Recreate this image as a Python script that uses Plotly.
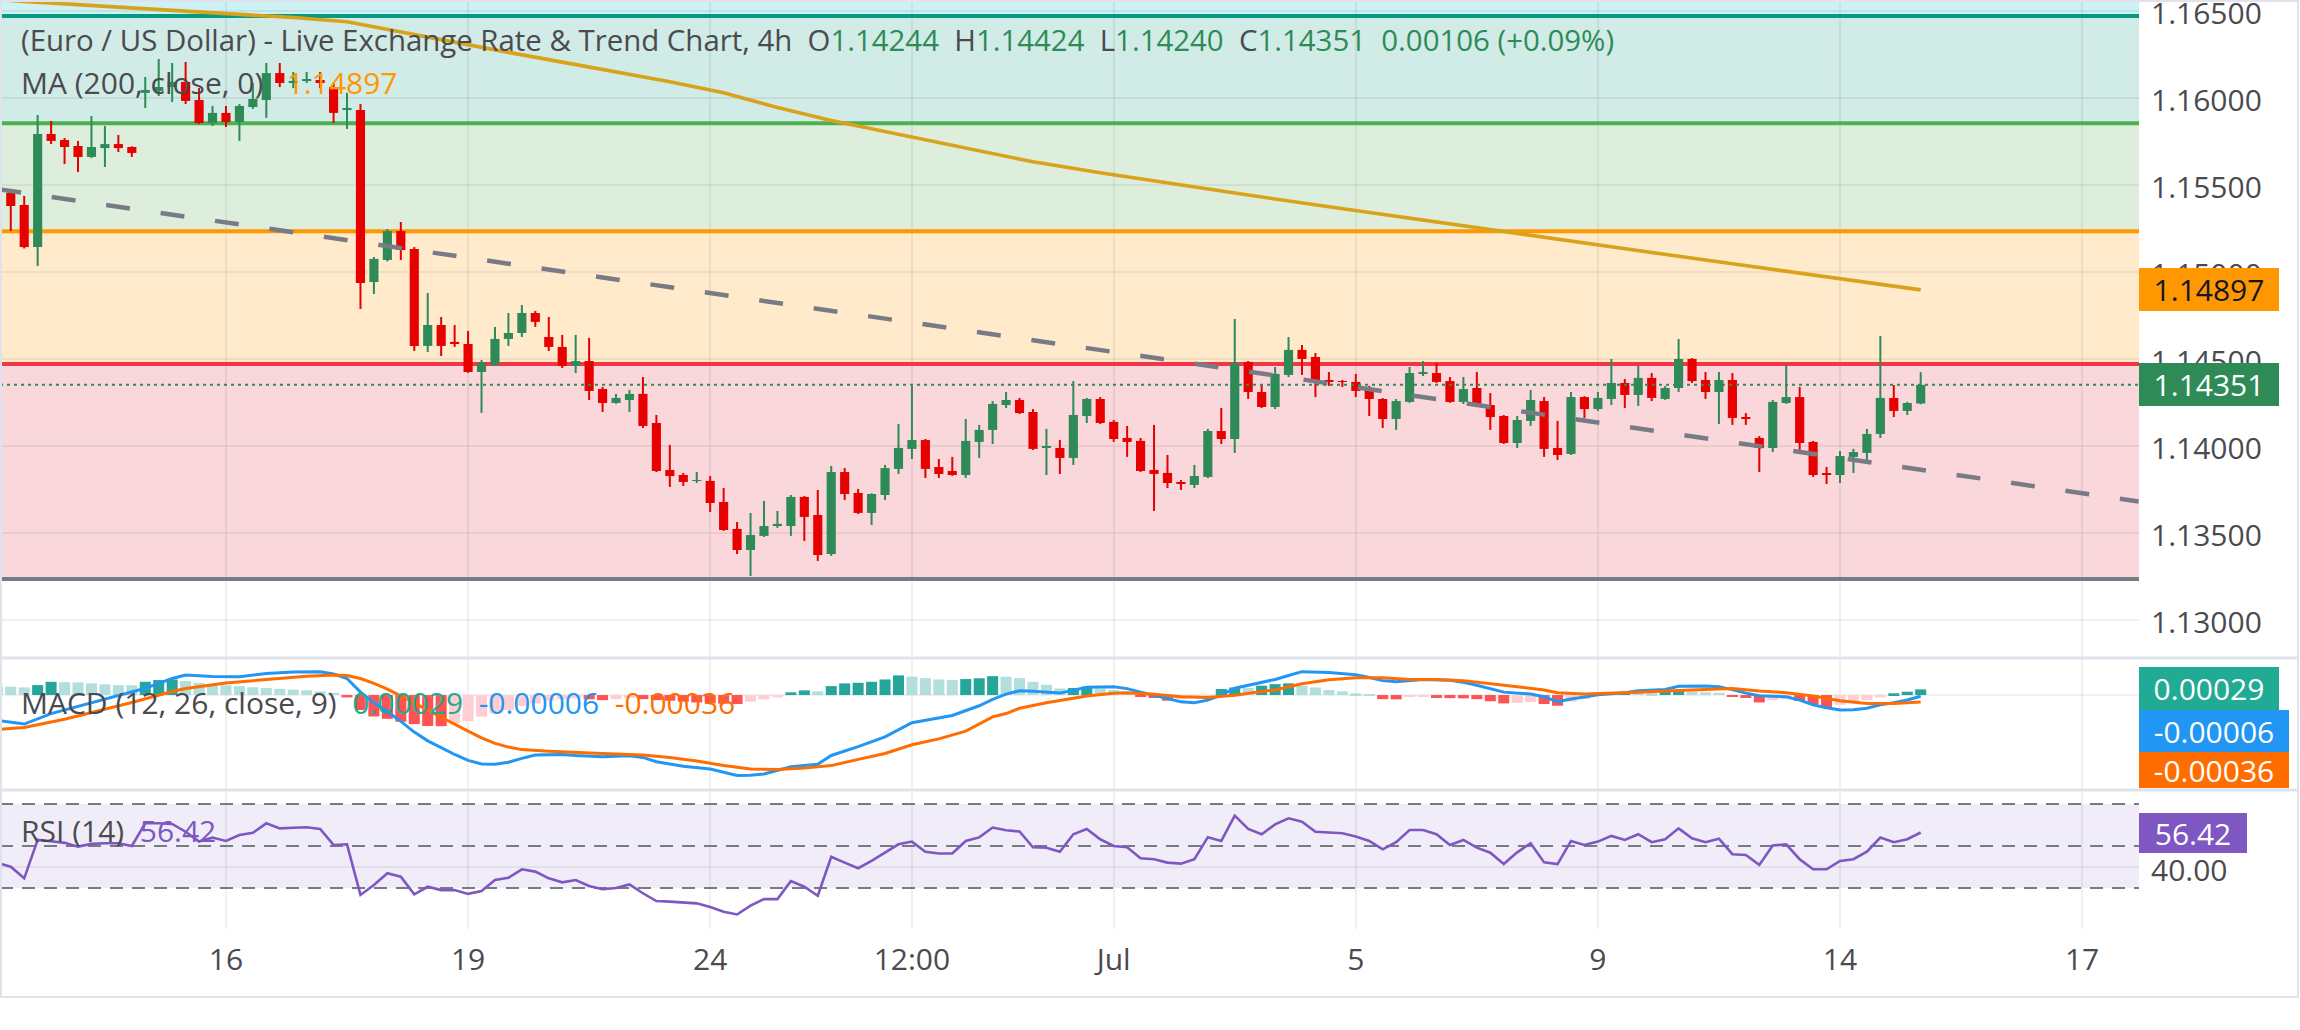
import plotly.graph_objects as go

# ---------------- data ----------------
candle_idx = list(range(-17, 127))   # 4h candle slots, 0 = Jun 16 00:00

opens = [
    1.15460, 1.15454, 1.15385, 1.15143, 1.15793, 1.15758, 1.15724, 1.15661, 1.15712, 1.15735,
    1.15718, 1.16029, 1.16040, 1.16063, 1.16092, 1.15988, 1.15856, 1.15914, 1.15862, 1.15948,
    1.15988, 1.16143, 1.16086, 1.16103, 1.16103, 1.16063, 1.15931, 1.15931, 1.14942, 1.15069,
    1.15235, 1.15132, 1.14575, 1.14695, 1.14598, 1.14586, 1.14425, 1.14465, 1.14615, 1.14649,
    1.14764, 1.14626, 1.14569, 1.14460, 1.14488, 1.14327, 1.14247, 1.14264, 1.14299, 1.14132,
    1.13862, 1.13833, 1.13799, 1.13799, 1.13678, 1.13523, 1.13402, 1.13483, 1.13540, 1.13540,
    1.13707, 1.13603, 1.13379, 1.13850, 1.13730, 1.13615, 1.13718, 1.13868, 1.13983, 1.14034,
    1.13879, 1.13856, 1.13833, 1.14023, 1.14092, 1.14235, 1.14264, 1.14195, 1.13988, 1.13988,
    1.13931, 1.14172, 1.14270, 1.14138, 1.14046, 1.14029, 1.13862, 1.13845, 1.13793, 1.13776,
    1.13822, 1.14086, 1.14040, 1.14483, 1.14310, 1.14224, 1.14408, 1.14552, 1.14511, 1.14379,
    1.14373, 1.14368, 1.14322, 1.14270, 1.14155, 1.14253, 1.14419, 1.14419, 1.14373, 1.14253,
    1.14333, 1.14235, 1.14172, 1.14017, 1.14144, 1.14258, 1.13988, 1.13954, 1.14281, 1.14212,
    1.14270, 1.14362, 1.14293, 1.14391, 1.14270, 1.14333, 1.14500, 1.14379, 1.14310, 1.14379,
    1.14161, 1.14046, 1.13988, 1.14247, 1.14281, 1.14023, 1.13839, 1.13833, 1.13937, 1.13960,
    1.14069, 1.14276, 1.14201, 1.14244]
highs = [
    1.15475, 1.15460, 1.15437, 1.15902, 1.15868, 1.15770, 1.15753, 1.15896, 1.15839, 1.15787,
    1.15722, 1.16121, 1.16224, 1.16201, 1.16207, 1.16057, 1.15954, 1.15954, 1.15965, 1.16086,
    1.16201, 1.16201, 1.16149, 1.16149, 1.16149, 1.16086, 1.16029, 1.15965, 1.15086, 1.15247,
    1.15287, 1.15143, 1.14879, 1.14741, 1.14695, 1.14661, 1.14494, 1.14684, 1.14764, 1.14810,
    1.14776, 1.14741, 1.14638, 1.14638, 1.14621, 1.14339, 1.14299, 1.14322, 1.14396, 1.14178,
    1.14006, 1.13845, 1.13850, 1.13827, 1.13758, 1.13563, 1.13615, 1.13684, 1.13626, 1.13718,
    1.13712, 1.13747, 1.13885, 1.13873, 1.13753, 1.13728, 1.13891, 1.14126, 1.14345, 1.14040,
    1.13925, 1.13937, 1.14155, 1.14121, 1.14258, 1.14310, 1.14276, 1.14212, 1.14098, 1.14034,
    1.14373, 1.14276, 1.14281, 1.14149, 1.14115, 1.14046, 1.14121, 1.13948, 1.13804, 1.13891,
    1.14098, 1.14218, 1.14730, 1.14488, 1.14350, 1.14454, 1.14626, 1.14580, 1.14534, 1.14425,
    1.14379, 1.14414, 1.14345, 1.14275, 1.14270, 1.14454, 1.14488, 1.14477, 1.14396, 1.14396,
    1.14425, 1.14304, 1.14178, 1.14172, 1.14322, 1.14281, 1.14144, 1.14310, 1.14286, 1.14310,
    1.14500, 1.14385, 1.14460, 1.14419, 1.14345, 1.14615, 1.14505, 1.14425, 1.14425, 1.14419,
    1.14189, 1.14057, 1.14264, 1.14465, 1.14339, 1.14029, 1.13879, 1.13971, 1.13983, 1.14098,
    1.14632, 1.14350, 1.14253, 1.14424]
lows = [
    1.15430, 1.15235, 1.15135, 1.15034, 1.15735, 1.15620, 1.15574, 1.15655, 1.15603, 1.15689,
    1.15661, 1.15942, 1.16011, 1.15977, 1.15965, 1.15850, 1.15839, 1.15833, 1.15753, 1.15937,
    1.15885, 1.16063, 1.16057, 1.16086, 1.16057, 1.15856, 1.15822, 1.14787, 1.14873, 1.15060,
    1.15069, 1.14546, 1.14540, 1.14517, 1.14569, 1.14420, 1.14190, 1.14460, 1.14575, 1.14626,
    1.14684, 1.14546, 1.14448, 1.14419, 1.14264, 1.14195, 1.14242, 1.14195, 1.14103, 1.13850,
    1.13764, 1.13770, 1.13787, 1.13621, 1.13512, 1.13379, 1.13253, 1.13477, 1.13529, 1.13483,
    1.13454, 1.13339, 1.13368, 1.13689, 1.13609, 1.13546, 1.13689, 1.13839, 1.13925, 1.13816,
    1.13816, 1.13828, 1.13816, 1.13931, 1.14011, 1.14218, 1.14184, 1.13977, 1.13833, 1.13839,
    1.13891, 1.14132, 1.14126, 1.14023, 1.13937, 1.13850, 1.13626, 1.13758, 1.13747, 1.13758,
    1.13815, 1.14011, 1.13960, 1.14270, 1.14218, 1.14212, 1.14396, 1.14408, 1.14281, 1.14345,
    1.14339, 1.14281, 1.14172, 1.14103, 1.14092, 1.14248, 1.14402, 1.14362, 1.14248, 1.14241,
    1.14224, 1.14092, 1.14011, 1.13988, 1.14115, 1.13937, 1.13919, 1.13948, 1.14161, 1.14201,
    1.14235, 1.14218, 1.14230, 1.14258, 1.14265, 1.14310, 1.14362, 1.14270, 1.14126, 1.14121,
    1.14121, 1.13850, 1.13965, 1.14242, 1.13971, 1.13822, 1.13781, 1.13787, 1.13845, 1.13902,
    1.14046, 1.14166, 1.14178, 1.14240]
closes = [
    1.15445, 1.15379, 1.15143, 1.15793, 1.15753, 1.15718, 1.15661, 1.15718, 1.15735, 1.15712,
    1.15684, 1.16046, 1.16063, 1.16092, 1.15983, 1.15856, 1.15914, 1.15862, 1.15954, 1.15994,
    1.16143, 1.16086, 1.16098, 1.16109, 1.16086, 1.15914, 1.15942, 1.14937, 1.15075, 1.15235,
    1.15126, 1.14575, 1.14695, 1.14575, 1.14586, 1.14425, 1.14477, 1.14615, 1.14649, 1.14764,
    1.14713, 1.14569, 1.14460, 1.14488, 1.14316, 1.14247, 1.14276, 1.14299, 1.14115, 1.13856,
    1.13827, 1.13793, 1.13804, 1.13672, 1.13517, 1.13402, 1.13488, 1.13540, 1.13552, 1.13707,
    1.13592, 1.13373, 1.13850, 1.13724, 1.13615, 1.13724, 1.13873, 1.13988, 1.14034, 1.13868,
    1.13839, 1.13833, 1.14029, 1.14092, 1.14241, 1.14264, 1.14189, 1.13983, 1.14000, 1.13931,
    1.14178, 1.14270, 1.14132, 1.14040, 1.14023, 1.13856, 1.13839, 1.13787, 1.13787, 1.13827,
    1.14086, 1.14040, 1.14477, 1.14310, 1.14224, 1.14414, 1.14552, 1.14500, 1.14368, 1.14373,
    1.14368, 1.14316, 1.14270, 1.14155, 1.14258, 1.14419, 1.14425, 1.14368, 1.14253, 1.14327,
    1.14230, 1.14166, 1.14017, 1.14149, 1.14264, 1.13983, 1.13948, 1.14281, 1.14212, 1.14276,
    1.14362, 1.14293, 1.14391, 1.14276, 1.14333, 1.14500, 1.14373, 1.14310, 1.14379, 1.14161,
    1.14155, 1.13988, 1.14253, 1.14281, 1.14017, 1.13833, 1.13833, 1.13942, 1.13965, 1.14069,
    1.14276, 1.14201, 1.14247, 1.14351]

ma_idx = [-17, -15, -8, 0, 5, 9, 13, 17, 21, 25, 29, 33, 37, 41, 45, 50, 55, 60, 65, 70,
          76, 82, 88, 94, 100, 106, 112, 118, 122, 126]
ma_vals = [1.16566, 1.16555, 1.16522, 1.16487, 1.16462, 1.16438, 1.16378, 1.16318, 1.16262,
           1.16206, 1.16150, 1.16093, 1.16030, 1.15945, 1.15870, 1.15790, 1.15712, 1.15633,
           1.15570, 1.15510, 1.15442, 1.15375, 1.15308, 1.15241, 1.15176, 1.15112, 1.15047,
           1.14983, 1.14940, 1.14897]

trend_idx = [-17, 142.2]
trend_vals = [1.15476, 1.13681]

fib_levels = [1.16471, 1.15854, 1.15234, 1.14471, 1.13236]
fib_line_colors = ['#089981', '#4caf50', '#ff9800', '#f23645', '#787b86']
fib_fill_colors = ['#cef1f3', '#d1ebe6', '#ddefdc', '#ffeacb', '#f9d7db']

macd_idx = [-17, -15, -13, -11, -9, -7, -6, -5, -4, -3, -1, 1, 3, 5, 7, 8, 9, 10, 11, 12,
            13, 14, 15, 16, 17, 18, 19, 20, 21, 22, 23, 25, 26, 28, 30, 31, 32, 34, 36, 38,
            39, 40, 42, 44, 45, 47, 49, 51, 52, 54, 56, 57, 58, 59, 60, 61, 62, 63, 64, 66,
            67, 68, 69, 70, 71, 72, 73, 74, 75, 76, 77, 78, 79, 80, 82, 84, 85, 86, 87, 88,
            89, 91, 92, 93, 94, 95, 97, 98, 99, 100, 101, 102, 104, 105, 107, 108, 110, 111,
            112, 113, 114, 116, 117, 118, 119, 120, 121, 122, 123, 124, 125, 126]
macd_vals = [-0.00130, -0.00149, -0.00095, -0.00058, -0.00022, 0.00015, 0.00035, 0.00060,
             0.00085, 0.00103, 0.00095, 0.00094, 0.00110, 0.00118, 0.00120, 0.00108, 0.00085,
             0.00015, -0.00040, -0.00085, -0.00135, -0.00190, -0.00235, -0.00270, -0.00305,
             -0.00335, -0.00354, -0.00355, -0.00345, -0.00325, -0.00308, -0.00305, -0.00310,
             -0.00316, -0.00312, -0.00320, -0.00342, -0.00365, -0.00380, -0.00413, -0.00412,
             -0.00405, -0.00368, -0.00355, -0.00310, -0.00265, -0.00215, -0.00142, -0.00130,
             -0.00105, -0.00055, -0.00022, 0.00005, 0.00022, 0.00019, 0.00014, 0.00010, 0.00025,
             0.00040, 0.00043, 0.00033, 0.00015, 0.00000, -0.00018, -0.00035, -0.00040,
             -0.00026, 0.00000, 0.00035, 0.00050, 0.00062, 0.00080, 0.00100, 0.00120, 0.00116,
             0.00104, 0.00090, 0.00074, 0.00068, 0.00075, 0.00080, 0.00076, 0.00066, 0.00050,
             0.00034, 0.00015, 0.00005, -0.00009, -0.00034, -0.00020, -0.00010, 0.00002,
             0.00012, 0.00022, 0.00029, 0.00045, 0.00047, 0.00043, 0.00028, 0.00010, -0.00004,
             -0.00009, -0.00026, -0.00050, -0.00065, -0.00077, -0.00076, -0.00068, -0.00050,
             -0.00040, -0.00025, -0.00006]

signal_idx = [-17, -15, -12, -10, -7, -4, -3, 0, 3, 6, 8, 9, 10, 11, 12, 13, 14, 15, 16, 17,
              18, 19, 20, 21, 22, 24, 26, 28, 31, 33, 35, 37, 39, 41, 43, 45, 47, 49, 51, 53,
              55, 57, 58, 59, 61, 63, 64, 66, 67, 69, 71, 73, 75, 77, 78, 80, 82, 84, 86, 88,
              90, 92, 94, 96, 98, 99, 101, 103, 105, 107, 110, 112, 114, 116, 118, 120, 122,
              124, 126]
signal_vals = [-0.00177, -0.00166, -0.00124, -0.00090, -0.00038, 0.00018, 0.00034, 0.00062,
               0.00080, 0.00097, 0.00103, 0.00100, 0.00085, 0.00060, 0.00030, -0.00003,
               -0.00040, -0.00078, -0.00115, -0.00150, -0.00185, -0.00220, -0.00248, -0.00267,
               -0.00280, -0.00288, -0.00295, -0.00300, -0.00308, -0.00320, -0.00338, -0.00362,
               -0.00379, -0.00382, -0.00375, -0.00362, -0.00330, -0.00300, -0.00255, -0.00225,
               -0.00185, -0.00112, -0.00095, -0.00068, -0.00040, -0.00018, -0.00005, 0.00009,
               0.00012, 0.00004, -0.00009, -0.00012, -0.00001, 0.00018, 0.00026, 0.00058,
               0.00078, 0.00089, 0.00089, 0.00080, 0.00080, 0.00074, 0.00060, 0.00043, 0.00026,
               0.00012, 0.00005, 0.00009, 0.00014, 0.00021, 0.00031, 0.00034, 0.00021, 0.00012,
               -0.00005, -0.00029, -0.00043, -0.00043, -0.00036]

hist_vals = [
    0.00043, 0.00043, 0.00039, 0.00051, 0.00068, 0.00066, 0.00065, 0.00060, 0.00055, 0.00051,
    0.00050, 0.00068, 0.00077, 0.00080, 0.00072, 0.00063, 0.00056, 0.00050, 0.00046, 0.00040,
    0.00036, 0.00032, 0.00028, 0.00024, 0.00019, 0.00012, -0.00012, -0.00077, -0.00110, -0.00122,
    -0.00137, -0.00149, -0.00159, -0.00160, -0.00145, -0.00133, -0.00111, -0.00094, -0.00077, -0.00056,
    -0.00043, -0.00029, -0.00022, -0.00017, -0.00022, -0.00026, -0.00021, -0.00014, -0.00021, -0.00026,
    -0.00029, -0.00034, -0.00038, -0.00043, -0.00044, -0.00046, -0.00034, -0.00022, -0.00012, 0.00014,
    0.00024, 0.00019, 0.00046, 0.00060, 0.00063, 0.00068, 0.00080, 0.00101, 0.00094, 0.00087,
    0.00080, 0.00077, 0.00082, 0.00086, 0.00097, 0.00094, 0.00087, 0.00068, 0.00053, 0.00034,
    0.00036, 0.00043, 0.00034, 0.00026, 0.00014, -0.00009, -0.00015, -0.00029, -0.00021, -0.00015,
    -0.00009, 0.00031, 0.00039, 0.00037, 0.00048, 0.00056, 0.00060, 0.00048, 0.00039, 0.00026,
    0.00019, 0.00009, 0.00002, -0.00021, -0.00022, -0.00009, -0.00007, -0.00015, -0.00016, -0.00017,
    -0.00021, -0.00032, -0.00043, -0.00040, -0.00036, -0.00046, -0.00055, -0.00034, -0.00020, 0.00005,
    0.00012, 0.00016, 0.00013, 0.00010, 0.00017, 0.00021, 0.00016, 0.00014, 0.00012, -0.00010,
    -0.00015, -0.00038, -0.00026, -0.00021, -0.00030, -0.00046, -0.00063, -0.00050, -0.00038, -0.00026,
    -0.00012, 0.00009, 0.00017, 0.00029]

rsi_vals = [
    42.0, 40.1, 34.6, 52.9, 52.3, 51.5, 49.7, 51.0, 51.3, 51.3,
    50.0, 60.8, 60.8, 60.5, 56.8, 52.1, 54.0, 52.4, 55.2, 56.3,
    60.8, 58.4, 58.7, 58.9, 58.1, 50.5, 50.8, 26.7, 31.4, 37.0,
    35.4, 27.0, 30.6, 29.0, 29.0, 27.2, 28.6, 33.8, 34.9, 38.9,
    37.8, 34.6, 32.7, 33.8, 31.0, 29.4, 30.0, 31.7, 27.5, 23.8,
    23.5, 23.0, 22.7, 21.0, 18.7, 17.4, 21.6, 24.7, 24.7, 33.3,
    30.6, 26.3, 44.9, 42.1, 39.4, 42.9, 46.8, 50.8, 52.1, 47.3,
    46.4, 46.4, 52.4, 54.1, 58.8, 57.5, 56.9, 49.4, 49.2, 47.3,
    55.6, 58.1, 53.2, 50.0, 49.4, 44.2, 43.7, 42.1, 41.6, 43.7,
    54.2, 52.4, 64.5, 58.1, 55.6, 60.3, 63.2, 61.6, 56.8, 56.5,
    56.1, 54.5, 52.4, 48.4, 51.8, 57.6, 57.6, 55.6, 50.5, 52.9,
    49.2, 46.8, 41.4, 47.0, 51.3, 42.2, 41.4, 52.4, 50.5, 52.1,
    54.8, 52.9, 55.6, 51.8, 53.2, 58.4, 53.7, 51.8, 53.5, 46.1,
    45.7, 41.0, 50.2, 50.8, 43.7, 38.9, 38.9, 42.9, 43.7, 47.3,
    54.0, 51.8, 53.2, 56.42]

x_tick_idx = [0, 18, 36, 51, 66, 84, 102, 120, 138]
x_tick_text = ['16', '19', '24', '12:00', 'Jul', '5', '9', '14', '17']
price_ticks = [1.130, 1.135, 1.140, 1.145, 1.150, 1.155, 1.160, 1.165]

last_close = 1.14351
last_ma = 1.14897
macd_last = ['0.00029', '-0.00006', '-0.00036']
rsi_last = 56.42

# ---------------- styling ----------------
FONT = 'Open Sans'
FS = 30
TXT = '#4a4a4f'
UP, DOWN = '#2e8b57', '#e60000'
GRID = 'rgba(42,46,57,0.07)'
SEP = '#e0e3eb'

W, H = 2300, 1030
PR, PB = 2139, 929          # plot area right / bottom (px)
XR = [-16.80, 142.23]


def py(px):                 # pixel row -> paper y
    return (PB - px) / PB


def pxx(px):                # pixel col -> paper x
    return px / PR


fig = go.Figure()

# candles: wicks + bodies
wick_base = lows
wick_len = [h - l for h, l in zip(highs, lows)]
colors = [UP if c >= o else DOWN for o, c in zip(opens, closes)]
MINB = 0.000035
body_base, body_len = [], []
for o, c in zip(opens, closes):
    lo, hi = min(o, c), max(o, c)
    if hi - lo < MINB:
        mid = (hi + lo) / 2
        lo, hi = mid - MINB / 2, mid + MINB / 2
    body_base.append(lo)
    body_len.append(hi - lo)

fig.add_trace(go.Bar(x=candle_idx, y=wick_len, base=wick_base, width=0.15,
                     marker=dict(color=colors, line=dict(width=0)), xaxis='x', yaxis='y'))
fig.add_trace(go.Bar(x=candle_idx, y=body_len, base=body_base, width=0.68,
                     marker=dict(color=colors, line=dict(width=0)), xaxis='x', yaxis='y'))

# MA 200
fig.add_trace(go.Scatter(x=ma_idx, y=ma_vals, mode='lines',
                         line=dict(color='#d9a21b', width=3.6), xaxis='x', yaxis='y'))
# trend line
fig.add_trace(go.Scatter(x=trend_idx, y=trend_vals, mode='lines',
                         line=dict(color='#787b86', width=4.5, dash='24px,31px'),
                         xaxis='x', yaxis='y'))

# MACD
hist_colors = []
prev = None
for h in hist_vals:
    p = h if prev is None else prev
    if h >= 0:
        hist_colors.append('#26a69a' if h > p else '#b2dfdb')
    else:
        hist_colors.append('#ff5252' if h < p else '#ffcdd2')
    prev = h
fig.add_trace(go.Bar(x=candle_idx, y=hist_vals, width=0.82,
                     marker=dict(color=hist_colors, line=dict(width=0)), xaxis='x', yaxis='y2'))
fig.add_trace(go.Scatter(x=macd_idx, y=macd_vals, mode='lines',
                         line=dict(color='#2196f3', width=3), xaxis='x', yaxis='y2'))
fig.add_trace(go.Scatter(x=signal_idx, y=signal_vals, mode='lines',
                         line=dict(color='#ff6d00', width=3), xaxis='x', yaxis='y2'))

# RSI
fig.add_trace(go.Scatter(x=candle_idx, y=rsi_vals, mode='lines',
                         line=dict(color='#7e57c2', width=2.6), xaxis='x', yaxis='y3'))

shapes = []
# fib zones
tops = [1.16563] + fib_levels[:-1]
for i, lvl in enumerate(fib_levels):
    shapes.append(dict(type='rect', xref='x', yref='y', x0=XR[0], x1=XR[1],
                       y0=lvl, y1=tops[i], fillcolor=fib_fill_colors[i],
                       line=dict(width=0), layer='below'))
for lvl, col in zip(fib_levels, fib_line_colors):
    shapes.append(dict(type='line', xref='x', yref='y', x0=XR[0], x1=XR[1],
                       y0=lvl, y1=lvl, line=dict(color=col, width=4), layer='between'))
# last price dotted line
shapes.append(dict(type='line', xref='x', yref='y', x0=XR[0], x1=XR[1],
                   y0=last_close, y1=last_close,
                   line=dict(color=UP, width=2, dash='3px,4px'), layer='above'))
# RSI band + levels
shapes.append(dict(type='rect', xref='x', yref='y3', x0=XR[0], x1=XR[1], y0=30, y1=70,
                   fillcolor='rgba(126,87,194,0.11)', line=dict(width=0), layer='below'))
for lv in (70, 50, 30):
    shapes.append(dict(type='line', xref='x', yref='y3', x0=XR[0], x1=XR[1], y0=lv, y1=lv,
                       line=dict(color='#787b86', width=2, dash='13px,9px'), layer='between'))
# pane separators and frame
for ypx in (658, 790):
    shapes.append(dict(type='line', xref='paper', yref='paper', x0=0, x1=pxx(2299),
                       y0=py(ypx), y1=py(ypx), line=dict(color=SEP, width=3), layer='above'))
shapes.append(dict(type='rect', xref='paper', yref='paper', x0=pxx(1), x1=pxx(2298),
                   y0=py(997), y1=py(1), line=dict(color=SEP, width=2), layer='above'))

ann = []
G = UP
hdr = ("(Euro / US Dollar) - Live Exchange Rate &amp; Trend Chart, 4h\u00a0\u00a0"
       f"O<span style='color:{G}'>1.14244</span>\u00a0\u00a0"
       f"H<span style='color:{G}'>1.14424</span>\u00a0\u00a0"
       f"L<span style='color:{G}'>1.14240</span>\u00a0\u00a0"
       f"C<span style='color:{G}'>1.14351</span>\u00a0\u00a0"
       f"<span style='color:{G}'>0.00106 (+0.09%)</span>")
ann.append(dict(text=hdr, xref='paper', yref='paper', x=pxx(19), y=py(40),
                xanchor='left', yanchor='middle', showarrow=False,
                font=dict(family=FONT, size=29.4, color=TXT)))
ann.append(dict(text="MA (200, close, 0)\u00a0\u00a0\u00a0"
                     f"<span style='color:#ff9800'>{last_ma:.5f}</span>",
                xref='paper', yref='paper', x=pxx(19), y=py(82),
                xanchor='left', yanchor='middle', showarrow=False,
                font=dict(family=FONT, size=FS, color=TXT)))
ann.append(dict(text="MACD (12, 26, close, 9)\u00a0\u00a0"
                     f"<span style='color:#22ab94'>{macd_last[0]}</span>\u00a0\u00a0"
                     f"<span style='color:#2196f3'>{macd_last[1]}</span>\u00a0\u00a0"
                     f"<span style='color:#ff6d00'>{macd_last[2]}</span>",
                xref='paper', yref='paper', x=pxx(19), y=py(702),
                xanchor='left', yanchor='middle', showarrow=False,
                font=dict(family=FONT, size=FS, color=TXT)))
ann.append(dict(text=f"RSI (14)\u00a0\u00a0<span style='color:#7e57c2'>{rsi_last:.2f}</span>",
                xref='paper', yref='paper', x=pxx(19), y=py(830),
                xanchor='left', yanchor='middle', showarrow=False,
                font=dict(family=FONT, size=FS, color=TXT)))

# right-side value boxes
def box(text, y, yref, bg, fg, w, h):
    return dict(text=text, xref='paper', yref=yref, x=1, y=y, xanchor='left',
                yanchor='middle', showarrow=False, bgcolor=bg, width=w, height=h,
                borderpad=0, borderwidth=0, align='center',
                font=dict(family=FONT, size=FS, color=fg))

ann.append(box(f"{last_ma:.5f}", last_ma, 'y', '#ff9800', '#131722', 140, 43))
ann.append(box(f"{last_close:.5f}", last_close, 'y', UP, '#ffffff', 140, 43))
ann.append(box(macd_last[0], py(688.5), 'paper', '#22ab94', '#ffffff', 140, 43))
ann.append(box(macd_last[1], py(731), 'paper', '#2196f3', '#ffffff', 150, 42))
ann.append(box(macd_last[2], py(770), 'paper', '#ff6d00', '#ffffff', 150, 36))
ann.append(box(f"{rsi_last:.2f}", rsi_last, 'y3', '#7e57c2', '#ffffff', 108, 40))

axfont = dict(family=FONT, size=FS, color=TXT)
fig.update_layout(
    width=W, height=H,
    margin=dict(l=0, r=W - PR, t=0, b=H - PB, pad=0),
    paper_bgcolor='white', plot_bgcolor='white',
    showlegend=False, hovermode=False, barmode='overlay',
    shapes=shapes, annotations=ann,
    xaxis=dict(domain=[0, 1], range=XR, anchor='y3', tickvals=x_tick_idx,
               ticktext=x_tick_text, showgrid=True, gridcolor=GRID, gridwidth=1.5,
               zeroline=False, showline=False, ticks='', tickfont=axfont,
               ticklabelstandoff=10, automargin=False),
    yaxis=dict(domain=[py(657), 1], range=[1.12787, 1.16563], side='right', anchor='x',
               tickvals=price_ticks, ticktext=[f"{v:.5f}" for v in price_ticks],
               showgrid=True, gridcolor=GRID, gridwidth=1.5, zeroline=False,
               ticks='', tickfont=axfont, ticklabelstandoff=11, automargin=False,
               ticklabeloverflow='allow', ticklabelshift=3),
    yaxis2=dict(domain=[py(788), py(659)], range=[-0.00477, 0.00185], side='right',
                anchor='x', tickvals=[0], showticklabels=False, showgrid=True,
                gridcolor=GRID, gridwidth=1.5, zeroline=False, ticks='', automargin=False),
    yaxis3=dict(domain=[0, py(791)], range=[10.48, 76.19], side='right', anchor='x',
                tickvals=[40], ticktext=['40.00'], showgrid=True, gridcolor=GRID,
                gridwidth=1.5, zeroline=False, ticks='', tickfont=axfont,
                ticklabelstandoff=11, automargin=False, ticklabelshift=3),
)

fig.write_html("out.html")
